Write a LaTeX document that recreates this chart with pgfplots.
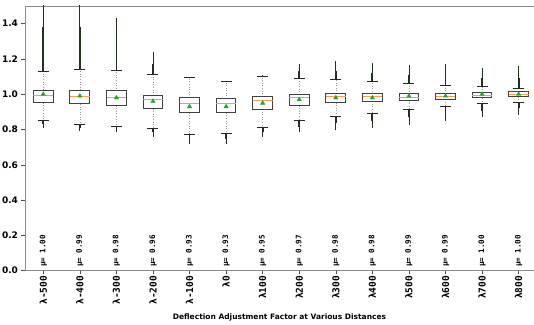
\documentclass[border=0pt]{standalone}
\usepackage{pgfplots}
\pgfplotsset{compat=1.18}
\usepgfplotslibrary{statistics}
\usepackage{pgfplotstable}
\usepackage{fontspec}
\setmainfont{DejaVu Sans}
\newfontfamily\monofont{DejaVu Sans Mono}

\definecolor{medorange}{HTML}{F0A050}
\definecolor{meangreen}{HTML}{2CA02C}
\definecolor{flier}{RGB}{30,50,30}
\definecolor{spine}{HTML}{8C8C8C}

% per-distance means (drawn as triangles and printed as labels)
\pgfplotstableread{
pos mean
1  1.00
2  0.99
3  0.98
4  0.96
5  0.93
6  0.93
7  0.95
8  0.97
9  0.98
10 0.98
11 0.99
12 0.99
13 1.00
14 1.00
}\meandata

% one prepared box: position, lower whisker, Q1, median, Q3, upper whisker
\newcommand\bx[6]{%
  \addplot[boxplot prepared={draw direction=y, draw position=#1, lower whisker=#2,
    lower quartile=#3, median=#4, upper quartile=#5, upper whisker=#6}]
    coordinates {};}

\begin{document}
\begin{tikzpicture}
\useasboundingbox (-25bp,-54.3bp) rectangle (509bp,270.7bp);
\begin{axis}[
  at={(0,0)}, anchor=south west,
  scale only axis, width=509bp, height=264.7bp,
  xmin=0.5, xmax=14.42, ymin=0, ymax=1.5,
  axis y line*=left,
  axis line style={spine, line width=0.8pt},
  xtick={1,...,14},
  xticklabels={λ-500,λ-400,λ-300,λ-200,λ-100,λ0,λ100,λ200,λ300,λ400,λ500,λ600,λ700,λ800},
  ytick={0,0.2,...,1.41},
  xtick pos=bottom, ytick pos=left,
  tick align=outside, major tick length=3.5bp,
  tick style={black!70, line width=0.6pt},
  xticklabel style={font=\monofont\bfseries\fontsize{9.5bp}{11bp}\selectfont,
    rotate=90, anchor=east, inner sep=1.5bp},
  yticklabel style={font=\bfseries\fontsize{9bp}{11bp}\selectfont,
    /pgf/number format/.cd, fixed, fixed zerofill, precision=1, assume math mode=true},
  xlabel={Deflection Adjustment Factor at Various Distances},
  xlabel style={font=\bfseries\fontsize{7.5bp}{9bp}\selectfont,
    at={(axis description cs:0.5,0)}, anchor=north, yshift=-39.5bp},
  boxplot/draw direction=y,
  boxplot/box extend=0.54,
  boxplot/whisker extend=0.3,
  boxplot/every box/.style={draw=black!75, line width=1pt, fill=white},
  boxplot/every median/.style={draw=medorange, line width=0.8pt},
  boxplot/draw/lower whisker/.code={%
    \draw[black!40, dotted, line width=0.6pt]
      (boxplot box cs:\pgfplotsboxplotvalue{lower quartile},0.5) --
      (boxplot box cs:\pgfplotsboxplotvalue{lower whisker},0.5);
    \draw[black!85, line width=0.9pt]
      (boxplot whisker cs:\pgfplotsboxplotvalue{lower whisker},0) --
      (boxplot whisker cs:\pgfplotsboxplotvalue{lower whisker},1);},
  boxplot/draw/upper whisker/.code={%
    \draw[black!40, dotted, line width=0.6pt]
      (boxplot box cs:\pgfplotsboxplotvalue{upper quartile},0.5) --
      (boxplot box cs:\pgfplotsboxplotvalue{upper whisker},0.5);
    \draw[black!85, line width=0.9pt]
      (boxplot whisker cs:\pgfplotsboxplotvalue{upper whisker},0) --
      (boxplot whisker cs:\pgfplotsboxplotvalue{upper whisker},1);},
  unbounded coords=jump,
]
% outlier runs: sparse tails
\addplot[flier, line width=0.9pt] coordinates {
  (1,1.129) (1,1.52) (1,nan) (1,0.854) (1,0.810) (1,nan)
  (2,1.142) (2,1.52) (2,nan) (2,0.831) (2,0.790) (2,nan)
  (3,1.137) (3,1.43) (3,nan) (3,0.820) (3,0.785) (3,nan)
  (4,1.110) (4,1.24) (4,nan) (4,0.806) (4,0.760) (4,nan)
  (5,0.772) (5,0.720) (5,nan)
  (6,0.776) (6,0.717) (6,nan)
  (7,1.098) (7,1.110) (7,nan) (7,0.810) (7,0.759) (7,nan)
  (8,1.091) (8,1.171) (8,nan) (8,0.850) (8,0.784) (8,nan)
  (9,1.081) (9,1.190) (9,nan) (9,0.872) (9,0.797) (9,nan)
  (10,1.074) (10,1.176) (10,nan) (10,0.890) (10,0.806) (10,nan)
  (11,1.062) (11,1.167) (11,nan) (11,0.912) (11,0.825) (11,nan)
  (12,1.047) (12,1.171) (12,nan) (12,0.933) (12,0.850) (12,nan)
  (13,1.043) (13,1.148) (13,nan) (13,0.945) (13,0.869) (13,nan)
  (14,1.034) (14,1.160) (14,nan) (14,0.956) (14,0.882)
};
% outlier runs: dense parts next to the caps
\addplot[flier, line width=1.8pt] coordinates {
  (1,1.129) (1,1.38) (1,nan) (1,0.854) (1,0.830) (1,nan)
  (2,1.142) (2,1.38) (2,nan) (2,0.831) (2,0.810) (2,nan)
  (3,1.137) (3,1.28) (3,nan) (3,0.820) (3,0.800) (3,nan)
  (4,1.110) (4,1.17) (4,nan) (4,0.806) (4,0.785) (4,nan)
  (5,0.772) (5,0.745) (5,nan)
  (6,0.776) (6,0.745) (6,nan)
  (7,1.098) (7,1.105) (7,nan) (7,0.810) (7,0.785) (7,nan)
  (8,1.091) (8,1.130) (8,nan) (8,0.850) (8,0.815) (8,nan)
  (9,1.081) (9,1.130) (9,nan) (9,0.872) (9,0.835) (9,nan)
  (10,1.074) (10,1.120) (10,nan) (10,0.890) (10,0.850) (10,nan)
  (11,1.062) (11,1.110) (11,nan) (11,0.912) (11,0.870) (11,nan)
  (12,1.047) (12,1.100) (12,nan) (12,0.933) (12,0.890) (12,nan)
  (13,1.043) (13,1.090) (13,nan) (13,0.945) (13,0.905) (13,nan)
  (14,1.034) (14,1.090) (14,nan) (14,0.956) (14,0.920)
};
\bx{1}{0.854}{0.952}{0.996}{1.024}{1.129}
\bx{2}{0.831}{0.945}{0.985}{1.024}{1.142}
\bx{3}{0.820}{0.935}{0.983}{1.019}{1.137}
\bx{4}{0.806}{0.918}{0.968}{0.994}{1.110}
\bx{5}{0.772}{0.895}{0.947}{0.981}{1.097}
\bx{6}{0.776}{0.895}{0.947}{0.975}{1.074}
\bx{7}{0.810}{0.916}{0.964}{0.988}{1.098}
\bx{8}{0.850}{0.935}{0.981}{0.998}{1.091}
\bx{9}{0.872}{0.952}{0.986}{1.004}{1.081}
\bx{10}{0.890}{0.960}{0.986}{1.002}{1.074}
\bx{11}{0.912}{0.964}{0.984}{1.002}{1.062}
\bx{12}{0.933}{0.971}{0.990}{1.004}{1.047}
\bx{13}{0.945}{0.979}{0.996}{1.009}{1.043}
\bx{14}{0.956}{0.985}{1.000}{1.015}{1.034}
% means
\addplot[only marks, mark=triangle*, mark size=2.5pt, color=meangreen]
  table[x=pos, y=mean] {\meandata};
% mean labels along the bottom
\pgfplotsinvokeforeach{0,...,13}{%
  \pgfplotstablegetelem{#1}{mean}\of\meandata
  \edef\temp{\noexpand\node[rotate=90, anchor=west, inner sep=0pt,
    font=\noexpand\monofont\noexpand\bfseries\noexpand\fontsize{7.6bp}{9bp}\noexpand\selectfont]
    at (axis cs:#1+1,0.02) {μ= \noexpand\pgfmathprintnumber[fixed,fixed zerofill,precision=2,assume math mode=true]{\pgfplotsretval}};}
  \temp
}
\end{axis}
\end{tikzpicture}
\end{document}
